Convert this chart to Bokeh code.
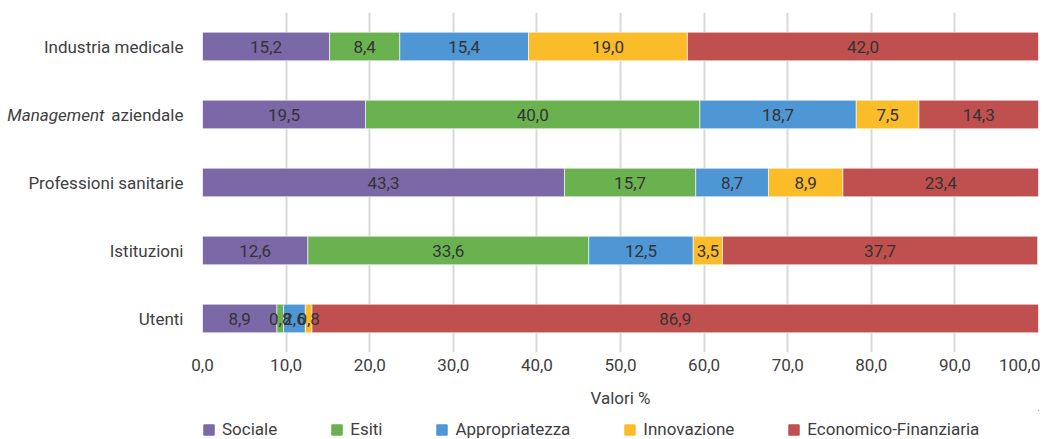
from bokeh.plotting import figure
from bokeh.layouts import column
from bokeh.models import Range1d, FixedTicker, Legend, LegendItem, LinearAxis, ColumnDataSource
from bokeh.core.properties import value
from bokeh.embed import file_html
from bokeh.resources import INLINE

categories = ["Industria medicale", "Management aziendale", "Professioni sanitarie", "Istituzioni", "Utenti"]
series = ["Sociale", "Esiti", "Appropriatezza", "Innovazione", "Economico-Finanziaria"]
sociale = [15.2, 19.5, 43.3, 12.6, 8.9]
esiti = [8.4, 40.0, 15.7, 33.6, 0.8]
appropriatezza = [15.4, 18.7, 8.7, 12.5, 2.6]
innovazione = [19.0, 7.5, 8.9, 3.5, 0.8]
economico = [42.0, 14.3, 23.4, 37.7, 86.9]
colors = ["#7b68a6", "#6ab150", "#4f96d5", "#fbbc2a", "#c0504f"]
x_ticks = [0, 10, 20, 30, 40, 50, 60, 70, 80, 90, 100]

FONT = "Roboto"
FS = "17px"
TXT = "#404040"

n = len(categories)
ypos = [n - 1 - i + 0.5 for i in range(n)]  # top-to-bottom order

data = dict(cat=categories, y=ypos)
for name, vals in zip(series, [sociale, esiti, appropriatezza, innovazione, economico]):
    data[name] = vals
src = ColumnDataSource(data)

p = figure(width=1040, height=410, output_backend="svg", toolbar_location=None,
           x_range=Range1d(0, 100), y_range=Range1d(0, n),
           min_border_left=202, min_border_right=2, min_border_top=12, min_border_bottom=0)
p.outline_line_color = None
p.background_fill_color = "white"

renderers = p.hbar_stack(series, y="y", height=0.42, color=colors, source=src,
                         line_color="white", line_width=0.6)

# data labels
lx, ly, lt = [], [], []
for i, c in enumerate(categories):
    left = 0.0
    for vals in [sociale, esiti, appropriatezza, innovazione, economico]:
        v = vals[i]
        lx.append(left + v / 2)
        ly.append(ypos[i])
        lt.append(f"{v:.1f}".replace(".", ","))
        left += v
p.text(x=lx, y=ly, text=lt, text_align="center", text_baseline="middle",
       text_font=value(FONT), text_font_size=FS, text_color="#333333")

# x axis
xa = p.xaxis[0]
xa.ticker = FixedTicker(ticks=x_ticks)
xa.major_label_overrides = {t: f"{t:.1f}".replace(".", ",") for t in x_ticks}
xa.axis_line_color = None
xa.major_tick_line_color = None
xa.minor_tick_line_color = None
xa.major_label_text_font = FONT
xa.major_label_text_font_size = FS
xa.major_label_text_color = TXT
xa.major_label_standoff = 0
xa.axis_label = "Valori %"
xa.axis_label_text_font = FONT
xa.axis_label_text_font_style = "normal"
xa.axis_label_text_font_size = FS
xa.axis_label_text_color = TXT
xa.axis_label_standoff = 14

# y axis (category names; "Management" part drawn italic by an outer axis)
mgmt_y = ypos[categories.index("Management aziendale")]
ov = {y: c for y, c in zip(ypos, categories)}
ov[mgmt_y] = "aziendale"
ya = p.yaxis[0]
ya.ticker = FixedTicker(ticks=ypos)
ya.major_label_overrides = ov
ya.axis_line_color = None
ya.major_tick_line_color = None
ya.minor_tick_line_color = None
ya.major_label_text_font = FONT
ya.major_label_text_font_size = FS
ya.major_label_text_color = TXT
ya.major_label_standoff = 13

ya2 = LinearAxis(ticker=FixedTicker(ticks=[mgmt_y]), major_label_overrides={mgmt_y: "Management"})
ya2.axis_line_color = None
ya2.major_tick_line_color = None
ya2.minor_tick_line_color = None
ya2.major_label_text_font = FONT
ya2.major_label_text_font_style = "italic"
ya2.major_label_text_font_size = FS
ya2.major_label_text_color = TXT
ya2.major_label_standoff = -85
p.add_layout(ya2, "left")

p.xgrid.grid_line_color = "#d9d9d9"
p.xgrid.grid_line_width = 2
p.xgrid.ticker = FixedTicker(ticks=x_ticks)
p.ygrid.grid_line_color = None

# legend strip (swatch renderers sit outside the visible range)
pl = figure(width=1040, height=29, output_backend="svg", toolbar_location=None,
            x_range=Range1d(0, 1), y_range=Range1d(0, 1),
            min_border_left=0, min_border_right=0, min_border_top=0, min_border_bottom=0)
pl.axis.visible = False
pl.grid.grid_line_color = None
pl.outline_line_color = None
leg_r = [pl.hbar(y=[5], left=[5], right=[6], height=1, color=c) for c in colors]
legend = Legend(items=[LegendItem(label=s, renderers=[r]) for s, r in zip(series, leg_r)],
                orientation="horizontal", glyph_width=13, glyph_height=13, label_standoff=7,
                spacing=53, padding=0, margin=0, border_line_color=None,
                background_fill_alpha=0, label_text_font=FONT, label_text_font_size=FS,
                label_text_color=TXT, location=(0, 0))
pl.add_layout(legend, "center")

layout = column(p, pl, spacing=0)
open("out.html", "w").write(file_html(layout, INLINE))
